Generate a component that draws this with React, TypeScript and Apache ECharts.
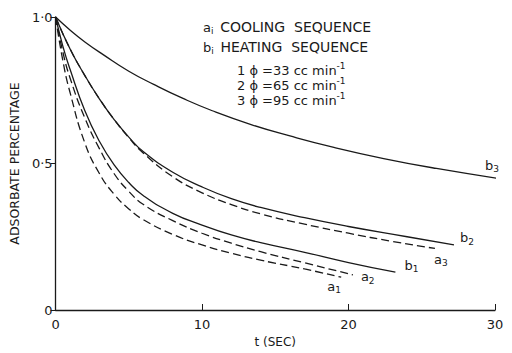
import React, { useEffect, useRef } from "react";
import * as echarts from "echarts";

const xTicks = [0, 10, 20, 30];
const yTicks = [0, 0.5, 1.0];

const a1: [number, number][] = [[0, 1], [0.5, 0.85], [1, 0.74], [2, 0.57], [3, 0.465], [4, 0.395], [5, 0.345], [6, 0.308], [8, 0.258], [10, 0.222], [12, 0.194], [14, 0.17], [17, 0.14], [19.5, 0.112]];
const a2: [number, number][] = [[0, 1], [0.5, 0.88], [1, 0.79], [2, 0.655], [3, 0.55], [4, 0.465], [5, 0.405], [6, 0.36], [8, 0.305], [10, 0.262], [12, 0.228], [14, 0.199], [17, 0.161], [20.3, 0.12]];
const b1: [number, number][] = [[0, 1], [0.5, 0.9], [1, 0.82], [2, 0.68], [3, 0.575], [4, 0.495], [5, 0.435], [6, 0.39], [8, 0.33], [10, 0.29], [12, 0.256], [14, 0.23], [17, 0.197], [20, 0.162], [23.2, 0.129]];
const a3: [number, number][] = [[0, 1], [1, 0.89], [2, 0.8], [3, 0.72], [4, 0.65], [5, 0.588], [6, 0.535], [8, 0.455], [10, 0.4], [12, 0.36], [14, 0.328], [17, 0.293], [20, 0.262], [23, 0.234], [25.9, 0.21]];
const b2: [number, number][] = [[0, 1], [1, 0.89], [2, 0.8], [3, 0.72], [4, 0.65], [5, 0.59], [6, 0.54], [8, 0.47], [10, 0.42], [12, 0.38], [14, 0.35], [17, 0.315], [20, 0.285], [24, 0.25], [27.2, 0.222]];
const b3: [number, number][] = [[0, 1], [1, 0.955], [2, 0.915], [3.3, 0.87], [5, 0.815], [6.7, 0.77], [8.7, 0.722], [10.7, 0.68], [13.4, 0.632], [16, 0.594], [19, 0.555], [22.4, 0.517], [26, 0.483], [30.1, 0.45]];

const seriesNames = ["a1", "a2", "b1", "a3", "b2", "b3"];
const seriesData = [a1, a2, b1, a3, b2, b3];
const dashedFlags = [true, true, false, true, false, false];
const labelLetters = ["a", "a", "b", "a", "b", "b"];
const labelSubs = ["1", "2", "1", "3", "2", "3"];
const labelOffsets: [number, number][] = [[-22, 9], [0, 2], [1, -7], [-9, 11], [-2, -7], [-19, -13]];

const legendLines = [
  "{n|a}{sub|i}  {c|COOLING  SEQUENCE}",
  "{n|b}{sub|i}  {c|HEATING  SEQUENCE}",
  "{n|1 ϕ =33 cc min}{sup|-1}",
  "{n|2 ϕ =65 cc min}{sup|-1}",
  "{n|3 ϕ =95 cc min}{sup|-1}",
];

const FONT = "DejaVu Sans";
const INK = "#1a1a1a";

export default function App() {
  const ref = useRef<HTMLDivElement>(null);
  useEffect(() => {
    if (!ref.current) return;
    const chart = echarts.init(ref.current, null, { renderer: "svg" });
    const rich = {
      n: { fontSize: 13, fontFamily: FONT, color: INK },
      c: { fontSize: 14, fontFamily: FONT, color: INK },
      sub: { fontSize: 9, fontFamily: FONT, color: INK, verticalAlign: "bottom", padding: [8, 0, 0, 0] },
      sup: { fontSize: 9, fontFamily: FONT, color: INK, verticalAlign: "top", padding: [0, 0, 8, 0] },
    };
    const legendPos: [number, number][] = [[203, 27], [203, 47], [237, 70], [237, 85], [237, 100]];
    chart.setOption({
      animation: false,
      grid: { left: 51, right: 17, top: 17, bottom: 34 },
      xAxis: {
        type: "value",
        min: 0,
        max: 30,
        interval: 10,
        name: "t (SEC)",
        nameLocation: "middle",
        nameGap: 26,
        nameTextStyle: { fontFamily: FONT, fontSize: 12, color: INK },
        axisLine: { lineStyle: { color: INK, width: 1.3 } },
        axisTick: { inside: true, length: 6, lineStyle: { color: INK } },
        axisLabel: {
          fontFamily: FONT,
          fontSize: 13,
          color: INK,
          margin: 8,
          formatter: (v: number) => (xTicks.includes(v) ? String(v) : ""),
        },
        splitLine: { show: false },
      },
      yAxis: {
        type: "value",
        min: 0,
        max: 1,
        interval: 0.5,
        name: "ADSORBATE PERCENTAGE",
        nameLocation: "middle",
        nameGap: 33,
        nameRotate: 90,
        nameTextStyle: { fontFamily: FONT, fontSize: 12.5, color: INK },
        axisLine: { lineStyle: { color: INK, width: 1.3 } },
        axisTick: { length: 5, lineStyle: { color: INK } },
        axisLabel: {
          fontFamily: FONT,
          fontSize: 13,
          color: INK,
          margin: 3,
          formatter: (v: number) =>
            yTicks.includes(v) ? (v === 0 ? "0" : v.toFixed(1).replace(".", "·")) : "",
        },
        splitLine: { show: false },
      },
      series: seriesNames.map((name, i) => ({
        name,
        type: "line",
        data: seriesData[i],
        showSymbol: false,
        smooth: 0.5,
        lineStyle: {
          color: INK,
          width: 1.3,
          type: dashedFlags[i] ? [8, 4] : "solid",
        },
        endLabel: {
          show: true,
          offset: labelOffsets[i],
          formatter: `{l|${labelLetters[i]}}{s|${labelSubs[i]}}`,
          rich: {
            l: { fontSize: 13, fontFamily: FONT, color: INK },
            s: { fontSize: 9, fontFamily: FONT, color: INK, verticalAlign: "bottom", padding: [8, 0, 0, 0] },
          },
        },
      })),
      graphic: legendLines.map((t, i) => ({
        type: "text",
        x: legendPos[i][0],
        y: legendPos[i][1],
        style: {
          text: t,
          rich,
          verticalAlign: "middle",
          fill: INK,
        },
      })),
    });
    return () => chart.dispose();
  }, []);
  return (
    <div
      ref={ref}
      style={{ position: "fixed", left: 0, top: 0, width: 512, height: 353, background: "#fff" }}
    />
  );
}
